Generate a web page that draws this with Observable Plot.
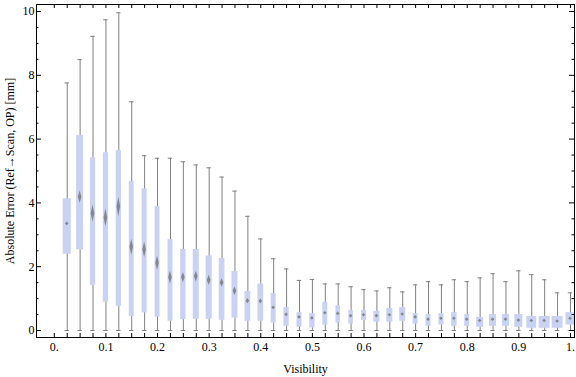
<!DOCTYPE html>
<html><head><meta charset="utf-8">
<script src="https://cdn.jsdelivr.net/npm/d3@7"></script>
<script src="https://cdn.jsdelivr.net/npm/@observablehq/plot@0.6"></script>
<style>body{margin:0;background:#fff}</style>
</head><body><div id="chart"></div>
<script>
// ---- data ----
const visibility = [0.025,0.05,0.075,0.1,0.125,0.15,0.175,0.2,0.225,0.25,0.275,0.3,0.325,0.35,0.375,0.4,0.425,0.45,0.475,0.5,
  0.525,0.55,0.575,0.6,0.625,0.65,0.675,0.7,0.725,0.75,0.775,0.8,0.825,0.85,0.875,0.9,0.925,0.95,0.975,1.0];
const whiskerMin = [0,0,0,0,0,0,0,0,0,0,0,0,0,0,0,0,0,0,0,0,0,0,0,0,0,0,0,0,0,0,0,0,0,0,0,0,0,0,0,0];
const quartile1 = [2.39,2.53,1.41,0.89,0.76,0.44,0.55,0.42,0.29,0.34,0.35,0.35,0.32,0.39,0.29,0.29,0.23,0.13,0.10,0.08,
  0.17,0.23,0.20,0.31,0.26,0.26,0.29,0.20,0.13,0.17,0.13,0.13,0.10,0.13,0.13,0.10,0.07,0.07,0.07,0.17];
const medians = [3.34,4.18,3.66,3.53,3.87,2.61,2.53,2.11,1.66,1.66,1.69,1.57,1.49,1.23,0.92,0.91,0.71,0.49,0.41,0.38,
  0.54,0.52,0.45,0.48,0.45,0.48,0.50,0.41,0.34,0.37,0.37,0.34,0.30,0.34,0.34,0.31,0.30,0.30,0.28,0.37];
const quartile3 = [4.13,6.11,5.41,5.57,5.64,4.67,4.44,3.89,2.85,2.54,2.54,2.34,2.26,1.85,1.22,1.46,1.16,0.72,0.56,0.53,
  0.88,0.78,0.63,0.63,0.60,0.69,0.72,0.53,0.50,0.53,0.56,0.50,0.41,0.50,0.50,0.50,0.44,0.44,0.44,0.56];
const whiskerMax = [7.76,8.49,9.22,9.74,9.96,7.17,5.48,5.40,5.40,5.29,5.19,5.10,4.81,4.37,3.58,2.87,2.25,1.93,1.57,1.60,
  1.46,1.46,1.37,1.28,1.24,1.34,1.21,1.43,1.53,1.43,1.59,1.53,1.65,1.78,1.53,1.87,1.75,1.59,1.18,1.18];
// median confidence half-interval (drawn as the diamond)
const medianCI = [0.06,0.19,0.27,0.28,0.31,0.25,0.24,0.22,0.20,0.16,0.17,0.16,0.13,0.13,0.08,0.08,0.06,0.05,0.05,0.05,
  0.05,0.05,0.04,0.04,0.04,0.04,0.04,0.04,0.04,0.04,0.04,0.04,0.03,0.03,0.03,0.03,0.03,0.03,0.03,0.03];
// relative bin population (box width)
const relCount = [0.73,0.64,0.48,0.48,0.48,0.45,0.45,0.45,0.45,0.48,0.55,0.55,0.52,0.55,0.52,0.52,0.45,0.48,0.45,0.48,
  0.45,0.41,0.41,0.45,0.55,0.55,0.55,0.45,0.45,0.45,0.5,0.45,0.64,0.64,0.64,0.73,0.91,1.0,1.0,0.82];
const xTicks = [0,0.1,0.2,0.3,0.4,0.5,0.6,0.7,0.8,0.9,1.0];
const yTicks = [0,2,4,6,8,10];
const xLabel = "Visibility";
const yLabel = "Absolute Error (Ref\u2192Scan, OP) [mm]";

// ---- layout ----
const W = 576, H = 377;
const mL = 36, mR = 2, mT = 4, mB = 40;
const xDomain = [-0.0345, 1.0078];
const yDomain = [-0.2194, 10.2194];
const ux = (xDomain[1] - xDomain[0]) / (W - mL - mR); // data units per px
const uy = (yDomain[1] - yDomain[0]) / (H - mT - mB);

const rows = visibility.map((v, i) => ({
  v, lo: whiskerMin[i], q1: quartile1[i], med: medians[i], q3: quartile3[i], hi: whiskerMax[i],
  ci: Math.max(medianCI[i], 1.8 * uy), w: relCount[i]
}));

const diamonds = rows.flatMap((d, i) => {
  const dw = 1.8 * ux;
  return [
    {i, x: d.v - dw, y1: d.med, y2: d.med},
    {i, x: d.v, y1: d.med - d.ci, y2: d.med + d.ci},
    {i, x: d.v + dw, y1: d.med, y2: d.med}
  ];
});

const minorX = d3.range(0, 41).map(k => k * 0.025);
const minorY = d3.range(0, 21).map(k => k * 0.5);
const tk = 4, tkMinor = 2.5;

const chart = Plot.plot({
  width: W, height: H,
  marginLeft: mL, marginRight: mR, marginTop: mT, marginBottom: mB,
  style: {fontFamily: "'Liberation Serif', 'DejaVu Serif', serif", fontSize: "12px", color: "#000", background: "#fff"},
  x: {domain: xDomain, ticks: xTicks, tickSize: 0, tickPadding: 5, label: null,
      tickFormat: d => d === 0 ? "0." : d === 1 ? "1." : d.toFixed(1)},
  y: {domain: yDomain, ticks: yTicks, tickSize: 0, tickPadding: 2, label: null},
  marks: [
    // whiskers
    Plot.ruleX(rows, {x: "v", y1: "lo", y2: "hi", stroke: "#808080", strokeWidth: 1}),
    Plot.ruleY(rows, {y: "hi", x1: d => d.v - 2.2 * ux, x2: d => d.v + 2.2 * ux, stroke: "#808080", strokeWidth: 1}),
    Plot.ruleY(rows, {y: "lo", x1: d => d.v - 2.2 * ux, x2: d => d.v + 2.2 * ux, stroke: "#808080", strokeWidth: 1}),
    // boxes
    Plot.rect(rows, {x1: d => d.v - d.w * 5.5 * ux, x2: d => d.v + d.w * 5.5 * ux, y1: "q1", y2: "q3", fill: "#cad2f4"}),
    // median diamonds
    Plot.areaY(diamonds, {x: "x", y1: "y1", y2: "y2", z: "i", fill: "#6e6e6e", fillOpacity: 0.75, curve: "linear"}),
    // inward frame ticks: bottom/top
    Plot.ruleX(minorX, {x: d => d, y1: yDomain[0], y2: yDomain[0] + tk * uy, stroke: "#000"}),
    Plot.ruleX(minorX, {x: d => d, y1: yDomain[1], y2: yDomain[1] - tk * uy, stroke: "#000"}),
    // left/right
    Plot.ruleY(minorY, {y: d => d, x1: xDomain[0], x2: d => xDomain[0] + (d % 2 === 0 ? tk + 1 : tkMinor) * ux, stroke: "#000"}),
    Plot.ruleY(minorY, {y: d => d, x1: xDomain[1], x2: d => xDomain[1] - (d % 2 === 0 ? tk + 1 : tkMinor) * ux, stroke: "#000"}),
    Plot.frame({stroke: "#000", strokeWidth: 1}),
    // axis titles
    Plot.text([xLabel], {frameAnchor: "bottom", dy: 32, lineAnchor: "middle", textAnchor: "middle", text: d => d, fontSize: 12}),
    Plot.text([yLabel], {frameAnchor: "left", dx: -26, rotate: -90, textAnchor: "middle", lineAnchor: "middle", text: d => d, fontSize: 12})
  ]
});
document.getElementById("chart").appendChild(chart);
</script>
</body></html>
